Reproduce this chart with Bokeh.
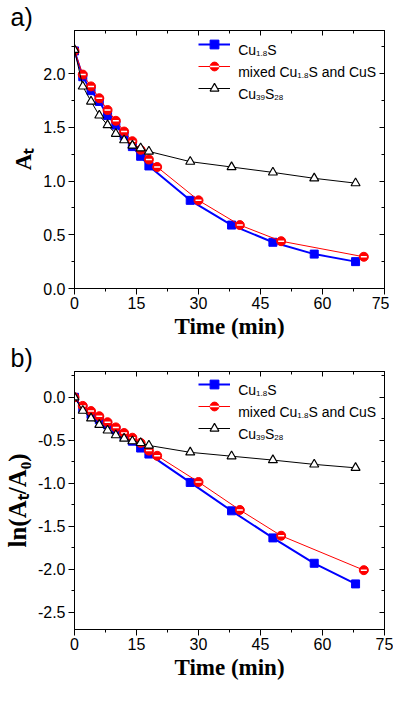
from bokeh.plotting import figure
from bokeh.models import (Range1d, LinearAxis, FixedTicker, Label, Legend, LegendItem,
                          CustomJSTickFormatter, PrintfTickFormatter)
from bokeh.layouts import column
from bokeh.embed import file_html
from bokeh.resources import INLINE

# ---------------- data ----------------
time_cu18s = [0, 2, 4, 6, 8, 10, 12, 14, 16, 18, 28, 38, 48, 58, 68]
time_mixed = [0, 2, 4, 6, 8, 10, 12, 14, 16, 18, 20, 30, 40, 50, 70]
time_cu39s28 = [0, 2, 4, 6, 8, 10, 12, 14, 16, 18, 28, 38, 48, 58, 68]

at_cu18s = [2.21, 1.97, 1.84, 1.74, 1.61, 1.52, 1.42, 1.32, 1.23, 1.14, 0.82, 0.59, 0.43, 0.32, 0.25]
at_mixed = [2.21, 1.99, 1.88, 1.77, 1.66, 1.56, 1.46, 1.37, 1.29, 1.20, 1.13, 0.82, 0.59, 0.44, 0.295]
at_cu39s28 = [2.22, 1.88, 1.74, 1.61, 1.52, 1.44, 1.38, 1.33, 1.305, 1.275, 1.18, 1.13, 1.08, 1.025, 0.98]

ln_cu18s = [0.0, -0.13, -0.20, -0.26, -0.32, -0.38, -0.45, -0.51, -0.59, -0.66, -0.99, -1.32, -1.635, -1.93, -2.17]
ln_mixed = [0.0, -0.10, -0.16, -0.22, -0.29, -0.35, -0.415, -0.47, -0.53, -0.62, -0.68, -0.985, -1.31, -1.61, -2.01]
ln_cu39s28 = [0.0, -0.155, -0.245, -0.32, -0.385, -0.44, -0.48, -0.51, -0.53, -0.56, -0.64, -0.685, -0.73, -0.78, -0.82]

x_major = [0, 15, 30, 45, 60, 75]
x_minor = [7.5, 22.5, 37.5, 52.5, 67.5]
ya_major = [0.0, 0.5, 1.0, 1.5, 2.0]
ya_minor = [0.25, 0.75, 1.25, 1.75, 2.25]
yb_major = [0.0, -0.5, -1.0, -1.5, -2.0, -2.5]
yb_minor = [0.25, -0.25, -0.75, -1.25, -1.75, -2.25]

# legend texts: (text, is_subscript)
legend_texts = [
    [("Cu", 0), ("1.8", 1), ("S", 0)],
    [("mixed Cu", 0), ("1.8", 1), ("S and CuS", 0)],
    [("Cu", 0), ("39", 1), ("S", 0), ("28", 1)],
]
x_title = "Time (min)"
ya_title = "A\u209c"
yb_title = "ln(A\u209c/A\u2080)"
panel_tags = ["a)", "b)"]

# ---------------- layout constants ----------------
L = 70
R = 9
FW = 310

SANS = "Liberation Sans"
SERIF = "Liberation Serif"

ARIAL_W = {"C": .722, "u": .556, "S": .667, "m": .833, "i": .222, "x": .5, "e": .556,
           "d": .556, " ": .278, "a": .556, "n": .556, ".": .278}


def text_width(s, size):
    return sum(ARIAL_W.get(ch, 0.556) for ch in s) * size


def style_axis(ax, major, minor, show_labels, inward=False):
    ax.ticker = FixedTicker(ticks=major, minor_ticks=minor)
    ax.axis_line_color = "black"
    ax.major_tick_line_color = "black"
    ax.minor_tick_line_color = "black"
    if inward:
        ax.major_tick_in, ax.major_tick_out = 5, 0
        ax.minor_tick_in, ax.minor_tick_out = 3, 0
    else:
        ax.major_tick_in, ax.major_tick_out = 0, 6
        ax.minor_tick_in, ax.minor_tick_out = 0, 3
    if show_labels:
        ax.major_label_text_font = SANS
        ax.major_label_text_font_size = "16px"
        ax.major_label_text_color = "black"
        ax.axis_label_text_font = SERIF
        ax.axis_label_text_font_style = "bold"
        ax.axis_label_text_color = "black"
    else:
        ax.formatter = CustomJSTickFormatter(code="return ''")
        ax.major_label_text_font_size = "0px"
        ax.major_label_standoff = 0


def make_fig(FH, top, bottom, y0, y1, ymaj, ymin, ytitle, ytitle_size, tag):
    p = figure(frame_width=FW, frame_height=FH, x_range=Range1d(0, 75), y_range=Range1d(y0, y1),
               output_backend="svg", toolbar_location=None,
               min_border_left=L, min_border_right=R,
               min_border_top=top, min_border_bottom=bottom)
    p.grid.visible = False
    p.outline_line_color = "black"
    p.outline_line_alpha = 1.0
    p.background_fill_color = "white"
    p.border_fill_color = "white"
    xa = p.xaxis[0]
    style_axis(xa, x_major, x_minor, True)
    xa.major_label_standoff = 2
    xa.axis_label = x_title
    xa.axis_label_text_font_size = "23px"
    xa.axis_label_standoff = 2
    ya = p.yaxis[0]
    style_axis(ya, ymaj, ymin, True)
    ya.formatter = PrintfTickFormatter(format="%.1f")
    ya.major_label_standoff = 3
    ya.axis_label = ytitle
    ya.axis_label_text_font_size = f"{ytitle_size}px"
    ya.axis_label_standoff = 4
    top_ax = LinearAxis()
    style_axis(top_ax, x_major, x_minor, False, inward=True)
    right_ax = LinearAxis()
    style_axis(right_ax, ymaj, ymin, False, inward=True)
    p.add_layout(top_ax, "above")
    p.add_layout(right_ax, "right")
    p.title.text = tag
    p.title.align = "left"
    p.title.offset = -(L - 6)
    p.title.standoff = 0
    p.title.text_font = SANS
    p.title.text_font_style = "normal"
    p.title.text_font_size = "25px"
    p.title.text_line_height = 0.8
    p.title.text_color = "black"
    return p


def draw_series(p, t18, y18, tmx, ymx, t39, y39):
    l1 = p.line(t18, y18, line_color="#0000ff", line_width=2)
    s1 = p.scatter(t18, y18, marker="square", size=8, fill_color="#0000ff", line_color="#0000ff")
    l2 = p.line(tmx, ymx, line_color="#ff0000", line_width=1)
    s2 = p.scatter(tmx, ymx, marker="circle", size=9, fill_color="#ff0000", line_color="#ff0000")
    d2 = p.scatter(tmx, ymx, marker="dash", size=6, line_color="white", line_width=1.5)
    l3 = p.line(t39, y39, line_color="black", line_width=1)
    s3 = p.scatter(t39, y39, marker="triangle", size=9, fill_color="white", line_color="black",
                   line_width=1.2)
    return [[l1, s1], [l2, s2, d2], [l3, s3]]


def add_legend(p, FH, y0, y1, groups, rows):
    # rows: px offsets of the legend rows below the frame top
    top_off = rows[0] - 11
    leg = Legend(items=[LegendItem(label=" ", renderers=r) for r in groups],
                 location=(0.40 * FW, FH - top_off - 66),
                 glyph_width=32, glyph_height=22, spacing=0, padding=0, margin=0,
                 label_standoff=0, label_width=0, label_height=22,
                 label_text_font_size="1px", border_line_alpha=0, background_fill_alpha=0)
    p.add_layout(leg)

    def dy(px):
        return y1 - px / FH * (y1 - y0)

    tx = 0.528 * FW
    for segs, ry in zip(legend_texts, rows):
        x = tx
        for txt, sub in segs:
            s = 8 if sub else 14
            p.add_layout(Label(x=75.0 * x / FW, y=dy(ry + (9 if sub else 5)), x_units="data",
                               y_units="data", text=txt, text_font=SANS,
                               text_font_size=f"{s}px", text_color="black",
                               text_align="left", text_baseline="alphabetic"))
            x += text_width(txt, s)


# ---------------- panel a ----------------
FHA = 258
pa = make_fig(FHA, 29, 46, 0.0, 2.4, ya_major, ya_minor, ya_title, 23, panel_tags[0])
ga_groups = draw_series(pa, time_cu18s, at_cu18s, time_mixed, at_mixed, time_cu39s28, at_cu39s28)
add_legend(pa, FHA, 0.0, 2.4, ga_groups, [14, 36, 58])

# ---------------- panel b ----------------
FHB = 258
pb = make_fig(FHB, 29, 46, -2.7, 0.3, yb_major, yb_minor, yb_title, 25, panel_tags[1])
gb_groups = draw_series(pb, time_cu18s, ln_cu18s, time_mixed, ln_mixed, time_cu39s28, ln_cu39s28)
add_legend(pb, FHB, -2.7, 0.3, gb_groups, [13, 35, 57])

layout = column(pa, pb)
open("out.html", "w").write(file_html(layout, INLINE))
